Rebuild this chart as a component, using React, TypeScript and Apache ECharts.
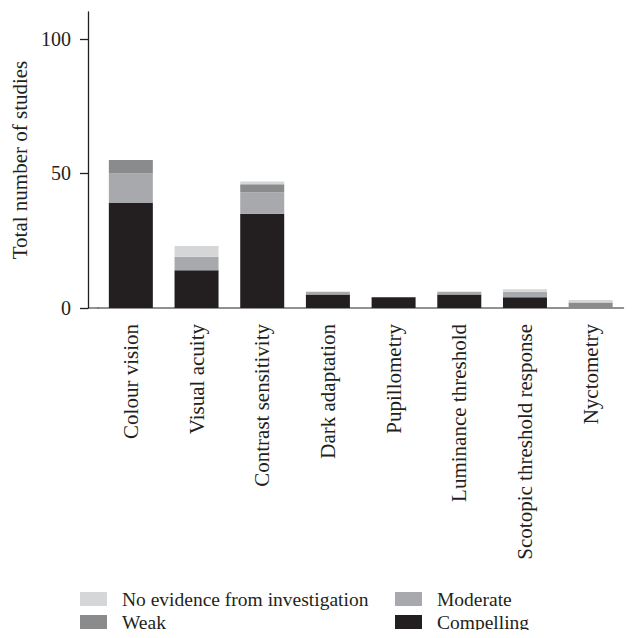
import React, { useEffect, useRef } from "react";
import * as echarts from "echarts";

const categories = [
  "Colour vision",
  "Visual acuity",
  "Contrast sensitivity",
  "Dark adaptation",
  "Pupillometry",
  "Luminance threshold",
  "Scotopic threshold response",
  "Nyctometry",
];
const compelling = [39, 14, 35, 5, 4, 5, 4, 0];
const moderate = [11, 5, 8, 1, 0, 1, 2, 0];
const weak = [5, 0, 3, 0, 0, 0, 0, 2];
const noEvidence = [0, 4, 1, 0, 0, 0, 1, 1];
const yTicks = [0, 50, 100];

const FONT = "'Liberation Serif', 'DejaVu Serif', serif";
const colors = {
  compelling: "#231f20",
  moderate: "#a7a9ac",
  weak: "#8a8b8d",
  none: "#d5d6d8",
};

export default function App() {
  const ref = useRef<HTMLDivElement>(null);
  useEffect(() => {
    if (!ref.current) return;
    const chart = echarts.init(ref.current, null, { renderer: "svg" });
    const mk = (name: string, data: number[], color: string) => ({
      name,
      type: "bar",
      stack: "total",
      data,
      barWidth: 44,
      itemStyle: { color },
      emphasis: { disabled: true },
    });
    const legendBase = {
      orient: "vertical",
      top: 589,
      height: 49,
      padding: 0,
      itemWidth: 27,
      itemHeight: 14,
      itemGap: 3,
      icon: "rect",
      textStyle: { color: "#231f20", fontSize: 19.5, fontFamily: FONT, padding: [0, 0, 0, 10] },
    };
    chart.setOption({
      animation: false,
      backgroundColor: "#ffffff",
      textStyle: { fontFamily: FONT },
      grid: { left: 98, right: 14.5, top: 12, bottom: 330, containLabel: false },
      xAxis: {
        type: "category",
        data: categories,
        axisLine: { lineStyle: { color: "#6d6e71", width: 1.5 } },
        axisTick: { alignWithLabel: true, length: 9, lineStyle: { color: "#231f20", width: 1.3 } },
        axisLabel: {
          rotate: 90,
          interval: 0,
          margin: 16,
          color: "#231f20",
          fontSize: 21,
          fontFamily: FONT,
        },
      },
      yAxis: {
        type: "value",
        min: 0,
        max: 110,
        interval: 50,
        offset: 10,
        name: "Total number of studies",
        nameLocation: "middle",
        nameGap: 55,
        nameTextStyle: { color: "#231f20", fontSize: 21, fontFamily: FONT },
        axisLine: { show: true, lineStyle: { color: "#231f20", width: 1.3 } },
        axisTick: { show: true, length: 8, customValues: yTicks, lineStyle: { color: "#231f20", width: 1.3 } },
        axisLabel: {
          customValues: yTicks,
          margin: 17,
          color: "#231f20",
          fontSize: 20,
          fontFamily: FONT,
        },
        splitLine: { show: false },
      },
      legend: [
        { ...legendBase, left: 80, data: ["No evidence from investigation", "Weak"] },
        { ...legendBase, left: 395, data: ["Moderate", "Compelling"] },
      ],
      series: [
        mk("Compelling", compelling, colors.compelling),
        mk("Moderate", moderate, colors.moderate),
        mk("Weak", weak, colors.weak),
        mk("No evidence from investigation", noEvidence, colors.none),
      ],
    });
    const y0 = chart.convertToPixel({ yAxisIndex: 0 }, 0) as number;
    chart.setOption({
      graphic: [
        {
          type: "line",
          shape: { x1: 88, y1: y0, x2: 99, y2: y0 },
          style: { stroke: "#6d6e71", lineWidth: 1.5 },
          silent: true,
        },
      ],
    });
    return () => chart.dispose();
  }, []);
  return <div ref={ref} style={{ width: 638, height: 638, margin: -8 }} />;
}
